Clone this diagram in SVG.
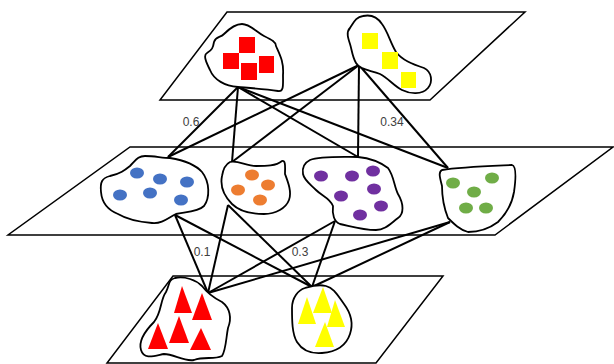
<svg xmlns="http://www.w3.org/2000/svg" width="614" height="364" viewBox="0 0 614 364">
  <style>
    .plane { fill: none; stroke: #000; stroke-width: 1.5; }
    .blob { fill: #fff; stroke: #000; stroke-width: 1.8; stroke-linejoin: round; }
    .edge { stroke: #000; stroke-width: 2; fill: none; }
    .w { font-family: "Liberation Sans", Arial, sans-serif; font-size: 12px; fill: #404040; text-anchor: middle; }
    .red { fill: #ff0000; }
    .yel { fill: #ffff00; }
    .blue { fill: #4472c4; }
    .orange { fill: #ed7d31; }
    .purple { fill: #7030a0; }
    .green { fill: #70ad47; }
  </style>
  <rect width="614" height="364" fill="#fff"/>

  <!-- layer planes -->
  <g id="planes">
    <polygon class="plane" points="227,12 525,12 430,100 160,100"/>
    <polygon class="plane" points="130,147 613,147 495,235 8,235"/>
    <polygon class="plane" points="173,276 443,276 376,363 107,363"/>
  </g>

  <!-- connectors between layers -->
  <g id="connectors">
    <line class="edge" x1="238" y1="87" x2="168" y2="157"/>
    <line class="edge" x1="238" y1="87" x2="232" y2="162"/>
    <line class="edge" x1="238" y1="87" x2="358" y2="157"/>
    <line class="edge" x1="238" y1="87" x2="448" y2="168"/>
    <line class="edge" x1="359" y1="65" x2="168" y2="157"/>
    <line class="edge" x1="359" y1="65" x2="232" y2="162"/>
    <line class="edge" x1="359" y1="65" x2="358" y2="157"/>
    <line class="edge" x1="359" y1="65" x2="448" y2="168"/>

    <line class="edge" x1="175" y1="215" x2="208" y2="293"/>
    <line class="edge" x1="175" y1="215" x2="312" y2="287"/>
    <line class="edge" x1="228" y1="205" x2="208" y2="293"/>
    <line class="edge" x1="228" y1="205" x2="312" y2="287"/>
    <line class="edge" x1="335" y1="221" x2="208" y2="293"/>
    <line class="edge" x1="335" y1="221" x2="312" y2="287"/>
    <line class="edge" x1="450" y1="222" x2="208" y2="293"/>
    <line class="edge" x1="450" y1="222" x2="312" y2="287"/>
  </g>

  <!-- top layer -->
  <g id="red-squares">
    <path class="blob" d="M242,24 C250,24 256,32 264,36 C272,40 276,42 276,46 C280,55 284,62 283,75 C283,85 284,92 278,91 C265,89 250,88 238,87 C225,86 214,80 210,70 C206,62 203,55 207,53 C212,50 213,48 214,42 C216,36 220,38 224,34 C230,28 236,24 242,24 Z"/>
    <rect class="red" x="239" y="37" width="16" height="16"/>
    <rect class="red" x="223" y="53" width="16" height="16"/>
    <rect class="red" x="241" y="63" width="16" height="17"/>
    <rect class="red" x="259" y="56" width="15" height="17"/>
  </g>
  <g id="yellow-squares">
    <path class="blob" d="M363,16 C372,14 378,18 382,24 C388,32 390,42 396,52 C402,60 412,64 424,68 C432,72 433,82 428,88 C422,95 410,94 402,90 C394,86 388,78 380,74 C370,70 360,70 356,63 C352,56 352,50 350,44 C348,38 346,32 350,28 C354,22 356,17 363,16 Z"/>
    <rect class="yel" x="362" y="33" width="16" height="16"/>
    <rect class="yel" x="382" y="52" width="16" height="17"/>
    <rect class="yel" x="401" y="72" width="15" height="16"/>
  </g>

  <!-- middle layer -->
  <g id="blue-dots">
    <path class="blob" d="M145,156 C155,156 162,158 170,158 C182,160 195,164 202,172 C210,182 210,198 204,206 C198,212 185,212 176,214 C168,218 162,224 152,223 C140,222 128,220 118,214 C108,210 102,204 101,192 C100,182 102,178 110,176 C120,174 125,170 130,166 C136,160 138,156 145,156 Z"/>
    <ellipse class="blue" cx="137" cy="173" rx="7" ry="5.5"/>
    <ellipse class="blue" cx="160" cy="179" rx="7" ry="5.5"/>
    <ellipse class="blue" cx="187" cy="182" rx="7" ry="5.5"/>
    <ellipse class="blue" cx="120" cy="195" rx="7" ry="5.5"/>
    <ellipse class="blue" cx="150" cy="193" rx="7" ry="5.5"/>
    <ellipse class="blue" cx="181" cy="200" rx="7" ry="5.5"/>
  </g>
  <g id="orange-dots">
    <path class="blob" d="M230,162 C238,160 246,166 256,166 C266,166 276,166 282,161 C286,160 285,168 285,174 C288,182 292,192 289,200 C286,208 276,214 264,214 C252,214 240,212 232,204 C224,196 220,186 222,176 C223,170 226,164 230,162 Z"/>
    <ellipse class="orange" cx="252" cy="175" rx="7" ry="5.5"/>
    <ellipse class="orange" cx="268" cy="185" rx="7" ry="5.5"/>
    <ellipse class="orange" cx="238" cy="190" rx="7" ry="5.5"/>
    <ellipse class="orange" cx="260" cy="200" rx="7" ry="5.5"/>
  </g>
  <g id="purple-dots">
    <path class="blob" d="M310,160 C320,156 340,157 358,157 C368,158 380,162 388,168 C394,176 394,186 398,194 C404,204 404,214 398,218 C390,224 385,230 376,230 C362,230 350,226 340,224 C334,222 332,214 333,206 C330,198 322,196 316,190 C310,184 304,180 303,174 C302,168 304,163 310,160 Z"/>
    <ellipse class="purple" cx="321" cy="176" rx="7" ry="5.5"/>
    <ellipse class="purple" cx="352" cy="176" rx="7" ry="5.5"/>
    <ellipse class="purple" cx="373" cy="171" rx="7" ry="5.5"/>
    <ellipse class="purple" cx="341" cy="196" rx="7" ry="5.5"/>
    <ellipse class="purple" cx="374" cy="189" rx="7" ry="5.5"/>
    <ellipse class="purple" cx="381" cy="206" rx="7" ry="5.5"/>
    <ellipse class="purple" cx="360" cy="215" rx="7" ry="5.5"/>
  </g>
  <g id="green-dots">
    <path class="blob" d="M442,170 C460,167 490,166 512,165 C516,166 516,178 514,192 C512,204 506,214 498,222 C490,228 480,232 468,232 C460,230 454,224 448,218 C444,208 442,196 442,186 C440,178 438,172 442,170 Z"/>
    <ellipse class="green" cx="453" cy="183" rx="7" ry="5.5"/>
    <ellipse class="green" cx="492" cy="178" rx="7" ry="5.5"/>
    <ellipse class="green" cx="474" cy="192" rx="7" ry="5.5"/>
    <ellipse class="green" cx="466" cy="208" rx="7" ry="5.5"/>
    <ellipse class="green" cx="486" cy="208" rx="7" ry="5.5"/>
  </g>

  <!-- bottom layer -->
  <g id="red-triangles">
    <path class="blob" d="M175,278 C185,276 196,280 202,286 C208,294 214,298 222,302 C230,308 232,318 228,328 C226,338 226,350 222,356 C214,360 204,356 194,360 C184,362 174,354 164,354 C154,356 144,360 141,350 C138,340 146,330 154,322 C162,312 160,300 166,292 C170,284 168,280 175,278 Z"/>
    <polygon class="red" points="182,286 192,313 174,313"/>
    <polygon class="red" points="202,293 212,320 192,320"/>
    <polygon class="red" points="179,316 189,343 169,343"/>
    <polygon class="red" points="158,323 168,349 148,349"/>
    <polygon class="red" points="201,328 211,350 190,350"/>
  </g>
  <g id="yellow-triangles">
    <path class="blob" d="M305,288 C312,286 318,284 326,286 C334,288 338,296 344,304 C350,312 354,322 350,334 C346,346 336,352 322,353 C310,354 302,350 297,342 C292,334 292,320 292,308 C292,298 298,290 305,288 Z"/>
    <polygon class="yel" points="307,297 316,324 298,324"/>
    <polygon class="yel" points="323,287 332,313 313,313"/>
    <polygon class="yel" points="335,300 345,327 327,327"/>
    <polygon class="yel" points="325,322 334,347 315,347"/>
  </g>

  <!-- connector weights -->
  <g id="weights">
    <text class="w" x="191" y="126">0.6</text>
    <text class="w" x="392" y="126">0.34</text>
    <text class="w" x="202" y="256">0.1</text>
    <text class="w" x="300" y="256">0.3</text>
  </g>
</svg>
